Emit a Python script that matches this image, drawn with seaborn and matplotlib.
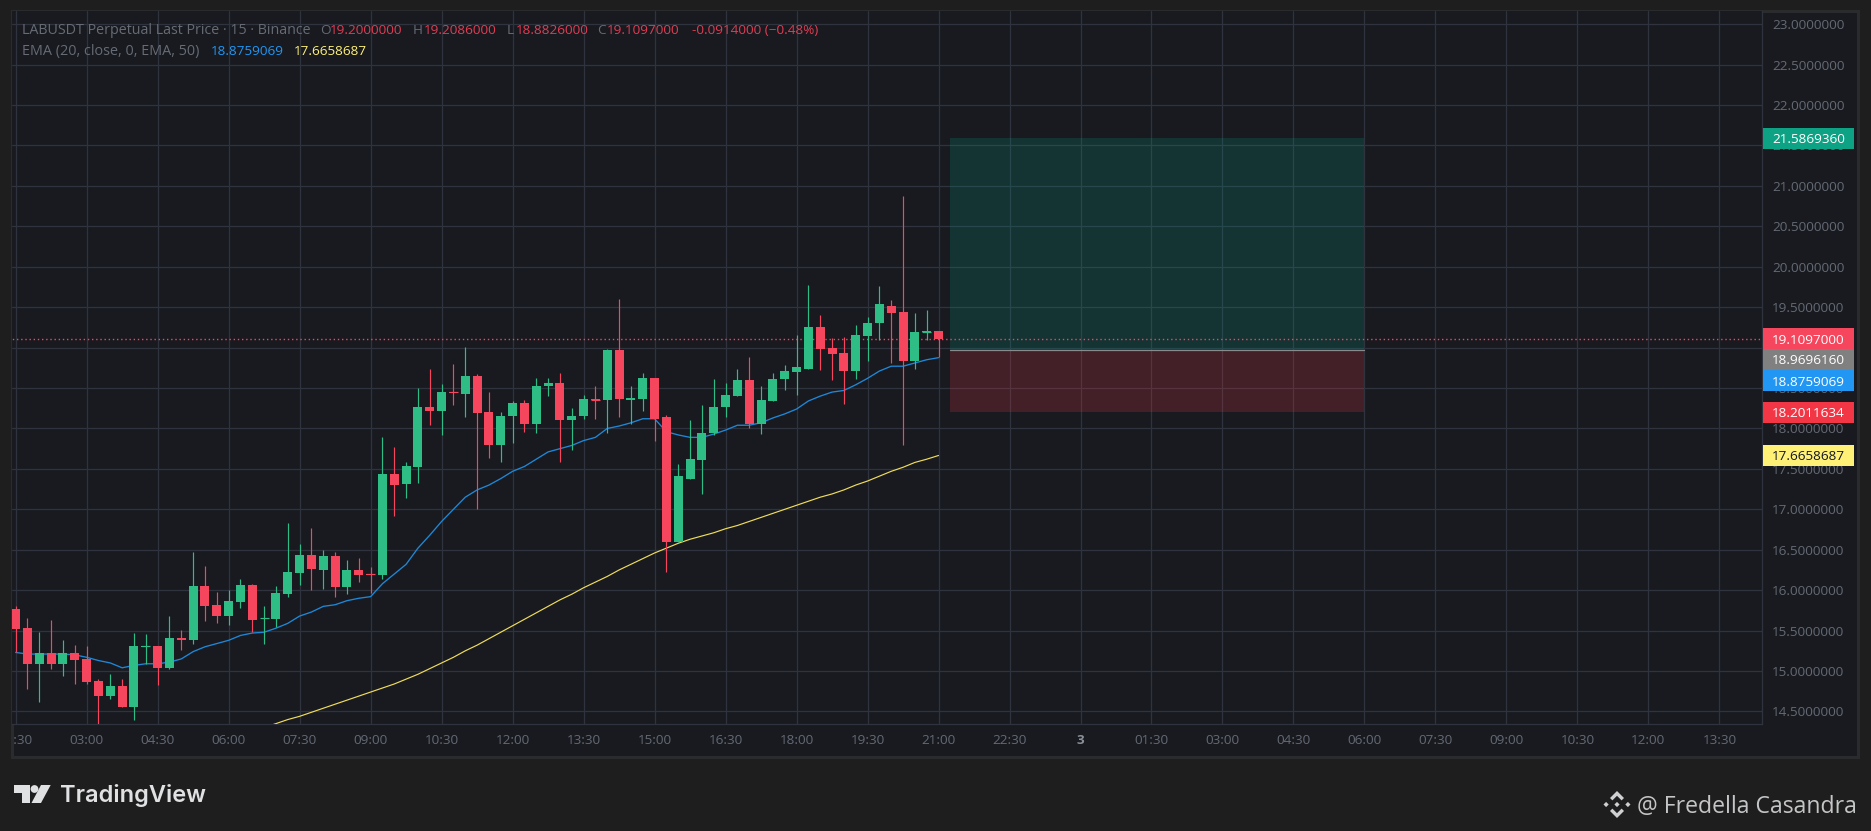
# LABUSDT 15m candles with two EMAs and a long position box, TradingView look
import numpy as np
import matplotlib
matplotlib.use('Agg')
import matplotlib.pyplot as plt
from matplotlib.patches import Rectangle, Polygon, Circle
from matplotlib.transforms import Affine2D, Bbox
import seaborn as sns

# candles
opens = [15.77, 15.53, 15.09, 15.22, 15.09, 15.22, 15.15, 14.88, 14.69, 14.81,
         14.55, 15.30, 15.31, 15.04, 15.41, 15.38, 16.05, 15.82, 15.68, 15.85,
         16.06, 15.65, 15.64, 15.95, 16.21, 16.43, 16.25, 16.42, 16.04, 16.25,
         16.20, 16.19, 17.44, 17.31, 17.52, 18.27, 18.22, 18.45, 18.43, 18.65,
         18.20, 17.80, 18.15, 18.32, 18.05, 18.52, 18.56, 18.10, 18.15, 18.36,
         18.35, 18.97, 18.35, 18.37, 18.62, 18.14, 16.59, 17.38, 17.61, 17.94,
         18.26, 18.40, 18.60, 18.06, 18.34, 18.61, 18.70, 18.74, 19.25, 18.99,
         18.93, 18.71, 19.14, 19.30, 19.52, 19.44, 18.83, 19.19, 19.20]
closes = [15.52, 15.09, 15.22, 15.09, 15.22, 15.14, 14.86, 14.69, 14.81, 14.55,
          15.31, 15.31, 15.04, 15.41, 15.38, 16.05, 15.80, 15.68, 15.87, 16.06,
          15.63, 15.66, 15.96, 16.22, 16.43, 16.26, 16.42, 16.04, 16.25, 16.19,
          16.19, 17.44, 17.30, 17.54, 18.27, 18.22, 18.45, 18.44, 18.65, 18.19,
          17.80, 18.16, 18.32, 18.05, 18.53, 18.56, 18.10, 18.15, 18.36, 18.35,
          18.97, 18.36, 18.38, 18.62, 18.12, 16.59, 17.41, 17.62, 17.95, 18.27,
          18.41, 18.60, 18.06, 18.35, 18.61, 18.71, 18.76, 19.25, 18.98, 18.92,
          18.71, 19.15, 19.31, 19.54, 19.43, 18.83, 19.19, 19.20, 19.1097]
highs = [15.80, 15.65, 15.48, 15.63, 15.38, 15.32, 15.31, 14.90, 14.96, 14.90,
         15.47, 15.46, 15.31, 15.68, 15.51, 16.47, 16.30, 15.98, 16.00, 16.14,
         16.08, 15.80, 16.05, 16.83, 16.57, 16.77, 16.50, 16.47, 16.37, 16.40,
         16.29, 17.89, 17.77, 17.59, 18.50, 18.74, 18.55, 18.80, 19.01, 18.67,
         18.45, 18.20, 18.34, 18.35, 18.62, 18.63, 18.68, 18.25, 18.42, 18.53,
         18.98, 19.60, 18.53, 18.69, 18.63, 18.17, 17.56, 18.11, 18.29, 18.61,
         18.56, 18.74, 18.89, 18.52, 18.69, 18.79, 19.15, 19.78, 19.40, 19.12,
         19.13, 19.28, 19.38, 19.76, 19.59, 20.87, 19.43, 19.47, 19.2086]
lows = [15.23, 14.78, 14.62, 15.02, 14.94, 14.84, 14.84, 14.32, 14.65, 14.55,
        14.40, 15.09, 14.83, 15.02, 15.26, 15.33, 15.62, 15.59, 15.57, 15.78,
        15.48, 15.33, 15.54, 15.91, 16.06, 16.00, 16.01, 15.91, 15.95, 16.10,
        15.96, 16.14, 16.92, 17.14, 17.33, 18.04, 17.92, 18.29, 18.14, 17.01,
        17.64, 17.59, 17.82, 17.96, 17.95, 18.40, 17.58, 17.73, 18.12, 18.12,
        17.95, 18.14, 18.06, 18.22, 17.85, 16.22, 16.59, 17.37, 17.19, 17.92,
        18.14, 18.40, 18.00, 17.93, 18.34, 18.48, 18.41, 18.73, 18.72, 18.60,
        18.30, 18.61, 18.84, 19.10, 18.81, 17.80, 18.74, 19.10, 18.8826]

ema20 = [15.23, 15.21, 15.21, 15.21, 15.21, 15.20, 15.17, 15.13, 15.10, 15.04,
         15.07, 15.09, 15.09, 15.11, 15.15, 15.24, 15.30, 15.34, 15.38, 15.44,
         15.47, 15.48, 15.53, 15.59, 15.68, 15.73, 15.80, 15.82, 15.87, 15.90,
         15.92, 16.08, 16.20, 16.32, 16.52, 16.68, 16.85, 17.00, 17.15, 17.24,
         17.30, 17.38, 17.47, 17.53, 17.62, 17.71, 17.75, 17.79, 17.85, 17.89,
         18.00, 18.03, 18.07, 18.12, 18.12, 17.96, 17.92, 17.89, 17.89, 17.93,
         17.98, 18.04, 18.04, 18.07, 18.13, 18.18, 18.24, 18.34, 18.40, 18.45,
         18.47, 18.54, 18.62, 18.71, 18.77, 18.77, 18.81, 18.85, 18.8759069]
# the 50 EMA only comes into view at candle 21
ema50_first = 21
ema50 = [14.30, 14.35, 14.40, 14.44, 14.49, 14.54, 14.59, 14.64, 14.69, 14.74,
         14.79, 14.84, 14.90, 14.96, 15.03, 15.10, 15.17, 15.25, 15.32, 15.40,
         15.48, 15.56, 15.64, 15.72, 15.80, 15.88, 15.95, 16.03, 16.10, 16.17,
         16.25, 16.32, 16.39, 16.46, 16.52, 16.58, 16.63, 16.67, 16.71, 16.76,
         16.80, 16.85, 16.90, 16.95, 17.00, 17.05, 17.10, 17.15, 17.19, 17.24,
         17.30, 17.35, 17.41, 17.47, 17.52, 17.58, 17.62, 17.6658687]

last_price = 19.1097
entry_price = 18.969616
target_price = 21.586936
stop_price = 18.2011634
ema20_last = 18.8759069
ema50_last = 17.6658687
box_start = 79
box_end = 114

time_labels = ['01:30', '03:00', '04:30', '06:00', '07:30', '09:00', '10:30', '12:00',
               '13:30', '15:00', '16:30', '18:00', '19:30', '21:00', '22:30', '3',
               '01:30', '03:00', '04:30', '06:00', '07:30', '09:00', '10:30', '12:00', '13:30']
candles_per_label = 6
price_ticks = np.arange(14.5, 23.01, 0.5)

UP = '#2ebd85'
DOWN = '#f6465d'
GRID = '#2e333e'
PANE = '#181a20'
OUTER = '#1e1e1e'
AXIS_TEXT = '#646973'
BLUE = '#2196f3'
YELLOW = '#fff176'
FONT = 'Open Sans'
FS = 9.7
Y_LOW, Y_HIGH = 14.345, 23.163

sns.set_theme(style='darkgrid', rc={
    'figure.facecolor': OUTER,
    'axes.facecolor': PANE,
    'axes.edgecolor': GRID,
    'grid.color': GRID,
    'grid.linewidth': 0.9,
})
plt.rcParams['font.family'] = [FONT, 'DejaVu Sans']

W, H = 1871, 831
fig = plt.figure(figsize=(W / 100, H / 100), dpi=100)

# pixel coordinates with origin at the top left, for the furniture round the chart
pix = Affine2D().scale(1, -1).translate(0, H)

fig.add_artist(Rectangle((12, 11), 1846, 746, transform=pix, facecolor=PANE,
                         edgecolor='#2a2b2d', linewidth=2.2, zorder=-1))

ax = fig.add_axes([12 / W, 1 - 724 / H, 1750 / W, 713 / H])
ax.set_axisbelow(True)
ax.set_xlim(-0.31, 147.6)
ax.set_ylim(Y_LOW, Y_HIGH)

x = np.arange(len(opens))
o = np.array(opens)
c = np.array(closes)
colors = np.where(c >= o, UP, DOWN)

# position box under everything else
ax.fill_between([box_start, box_end], entry_price, target_price, color='#089981', alpha=0.2, lw=0, zorder=1)
ax.fill_between([box_start, box_end], stop_price, entry_price, color='#f23645', alpha=0.2, lw=0, zorder=1)
ax.plot([box_start, box_end], [entry_price, entry_price], color='#8a8a8a', lw=0.9, zorder=2)

ax.plot([x[0] - 1, ax.get_xlim()[1]], [last_price, last_price], color=DOWN, lw=1.0,
        linestyle=(0, (1.0, 2.0)), zorder=2, scalex=False, scaley=False)

sns.lineplot(x=x, y=ema20, ax=ax, color='#1e88d8', linewidth=0.95, zorder=3, errorbar=None)
sns.lineplot(x=np.arange(ema50_first, ema50_first + len(ema50)), y=ema50, ax=ax,
             color='#f0dc5a', linewidth=0.85, zorder=3, errorbar=None)

# candles: wick, body, and a flat line where the body is almost nothing
ax.vlines(x, lows, highs, colors=colors, linewidth=0.85, zorder=4)
ax.bar(x, np.abs(c - o), bottom=np.minimum(o, c), width=0.76, color=colors, linewidth=0, zorder=5)
flat = np.abs(c - o) <= 0.02
ax.hlines((o[flat] + c[flat]) / 2, x[flat] - 0.38, x[flat] + 0.38, colors=colors[flat], linewidth=0.85, zorder=5)

ax.set_xlim(-0.31, 147.6)
ax.set_ylim(Y_LOW, Y_HIGH)

ax.yaxis.tick_right()
ax.set_yticks(price_ticks)
ax.set_yticklabels(['%.7f' % p for p in price_ticks], color=AXIS_TEXT, fontsize=FS)
ax.set_xticks(np.arange(len(time_labels)) * candles_per_label)
ax.set_xticklabels(time_labels, color=AXIS_TEXT, fontsize=FS)
ax.tick_params(axis='both', length=0)
ax.tick_params(axis='y', pad=7.2)
ax.tick_params(axis='x', pad=7.5)
ax.grid(True, color=GRID, linewidth=0.9)
ax.set_xlabel('')
ax.set_ylabel('')
for name in ['left', 'top']:
    ax.spines[name].set_visible(False)
for name in ['right', 'bottom']:
    ax.spines[name].set_color(GRID)
    ax.spines[name].set_linewidth(0.9)

# time labels are cut at the left edge of the pane, day label is bold
pane_box = Bbox([[12, H - 757], [1858, H - 11]])
for t in ax.get_xticklabels():
    t.set_clip_on(True)
    t.set_clip_box(pane_box)
    if t.get_text() == '3':
        t.set_fontweight('bold')
        t.set_color('#8b9098')


def price_tag(price, value, color, text_color='white', shift=0):
    # tag on the price scale, centred on its price unless pushed down by a neighbour
    y = H - ax.transData.transform((0, price))[1] + shift
    fig.add_artist(Rectangle((1763, y - 10.5), 91, 21, transform=pix, facecolor=color, edgecolor='none', zorder=5))
    fig.text(1772, y, '%.7f' % value, transform=pix, color=text_color, fontsize=FS,
             va='center_baseline', ha='left', zorder=6)


price_tag(target_price, target_price, '#0ca283')
price_tag(last_price, last_price, DOWN)
price_tag(entry_price, entry_price, '#808080', shift=9)
price_tag(ema20_last, ema20_last, BLUE, shift=23)
price_tag(stop_price, stop_price, '#f23645')
price_tag(ema50_last, ema50_last, YELLOW, text_color='#131722')


def head(x_px, y_px, text, color, size=FS):
    fig.text(x_px, y_px, text, transform=pix, color=color, fontsize=size, va='center_baseline', ha='left', zorder=6)


# legend lines, each piece placed where it sits in the picture
GREY_TEXT = '#666b74'
RED_TEXT = '#e23c52'
head(21.5, 29, 'LABUSDT Perpetual Last Price · 15 · Binance', GREY_TEXT, 10.3)
head(320, 29, 'O', GREY_TEXT)
head(330, 29, '19.2000000', RED_TEXT)
head(413, 29, 'H', GREY_TEXT)
head(424, 29, '19.2086000', RED_TEXT)
head(507, 29, 'L', GREY_TEXT)
head(516, 29, '18.8826000', RED_TEXT)
head(597, 29, 'C', GREY_TEXT)
head(607, 29, '19.1097000', RED_TEXT)
head(692, 29, '-0.0914000 (−0.48%)', RED_TEXT)
head(21.5, 50, 'EMA (20, close, 0, EMA, 50)', GREY_TEXT, 10.4)
head(211, 50, '18.8759069', BLUE)
head(294, 50, '17.6658687', YELLOW)

# TradingView mark and wordmark
LOGO = '#dfe1e3'
fig.add_artist(Polygon([(14, 785), (30, 785), (30, 803), (21.7, 803), (21.7, 793), (14, 793)],
                       transform=pix, facecolor=LOGO, edgecolor='none', zorder=5))
fig.add_artist(Circle((34.5, 789), 3.9, transform=pix, facecolor=LOGO, edgecolor='none', zorder=5))
fig.add_artist(Polygon([(41, 785), (50.7, 785), (41, 803), (31.5, 803)],
                       transform=pix, facecolor=LOGO, edgecolor='none', zorder=5))
fig.text(60, 793, 'TradingView', transform=pix, color=LOGO, fontsize=17, fontweight='semibold',
         family='Inter', va='center_baseline', ha='left', zorder=6)

# Binance mark and author
MARK = '#cfd0d1'
bx, by = 1617, 804.5
for pts in [[(0, -13.5), (7, -6.5), (4.6, -4.1), (0, -8.7), (-4.6, -4.1), (-7, -6.5)],
            [(0, 13.5), (7, 6.5), (4.6, 4.1), (0, 8.7), (-4.6, 4.1), (-7, 6.5)],
            [(0, -2.6), (2.6, 0), (0, 2.6), (-2.6, 0)],
            [(-13.5, 0), (-10.9, -2.6), (-8.3, 0), (-10.9, 2.6)],
            [(13.5, 0), (10.9, -2.6), (8.3, 0), (10.9, 2.6)]]:
    fig.add_artist(Polygon([(bx + a, by + b) for a, b in pts], transform=pix, facecolor=MARK,
                           edgecolor='none', zorder=5))
fig.text(1637, 804, '@ Fredella Casandra', transform=pix, color='#c4c5c6', fontsize=16.6,
         family='Open Sans', va='center_baseline', ha='left', zorder=6)

fig.savefig('out.png', dpi=100, facecolor=fig.get_facecolor())
